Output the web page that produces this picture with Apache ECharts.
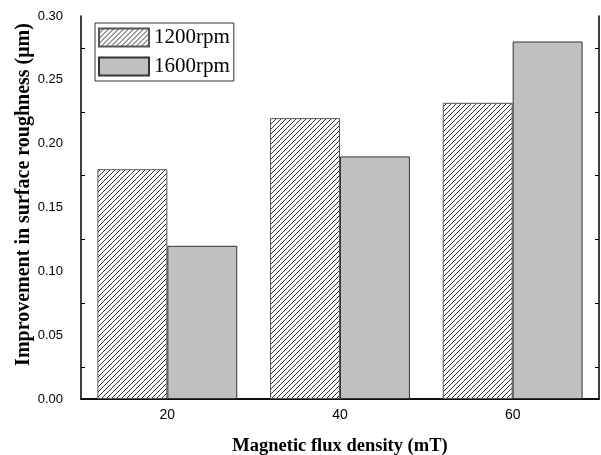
<!DOCTYPE html>
<html>
<head>
<meta charset="utf-8">
<script src="https://cdn.jsdelivr.net/npm/echarts@6/dist/echarts.min.js"></script>
<style>
  html, body { margin: 0; padding: 0; background: #fff; }
  #main { width: 601px; height: 455px; }
</style>
</head>
<body>
<div id="main"></div>
<script>
  var categories = ['20', '40', '60'];
  var rpm1200 = [0.18, 0.22, 0.232];
  var rpm1600 = [0.12, 0.19, 0.28];

  // hatch pattern for the 1200rpm bars
  function makeHatch() {
    var p = 5;
    var c = document.createElement('canvas');
    c.width = p;
    c.height = p;
    var ctx = c.getContext('2d');
    ctx.fillStyle = '#fff';
    ctx.fillRect(0, 0, p, p);
    ctx.strokeStyle = '#333';
    ctx.lineWidth = 1;
    ctx.beginPath();
    ctx.moveTo(-1, p + 1); ctx.lineTo(p + 1, -1);
    ctx.moveTo(-1, 1); ctx.lineTo(1, -1);
    ctx.moveTo(p - 1, p + 1); ctx.lineTo(p + 1, p - 1);
    ctx.stroke();
    return c;
  }
  var hatch = {image: makeHatch(), repeat: 'repeat'};

  var chart = echarts.init(document.getElementById('main'));
  var option = {
    animation: false,
    grid: {left: 81, right: 2, top: 16, bottom: 56, outerBoundsMode: 'none', containLabel: false},
    legend: {
      orient: 'vertical',
      left: 95,
      top: 23,
      padding: [4, 4, 4, 3],
      icon: 'rect',
      itemWidth: 50,
      itemHeight: 18,
      itemGap: 8,
      borderColor: '#333',
      borderWidth: 1,
      backgroundColor: '#fff',
      textStyle: {fontFamily: 'Liberation Serif', fontSize: 21, color: '#000'},
      data: ['1200rpm', '1600rpm']
    },
    xAxis: [
      {
        type: 'category',
        data: categories,
        position: 'bottom',
        name: 'Magnetic flux density (mT)',
        nameLocation: 'middle',
        nameGap: 38,
        nameTextStyle: {fontFamily: 'Liberation Serif', fontWeight: 'bold', fontSize: 18.5, color: '#000'},
        axisLine: {lineStyle: {color: '#000', width: 1.5}},
        axisTick: {inside: true, length: 4, lineStyle: {color: '#000'}},
        axisLabel: {fontFamily: 'Liberation Sans', fontSize: 14, color: '#000', margin: 9}
      },
      {
        type: 'category',
        data: categories,
        position: 'top',
        axisLine: {lineStyle: {color: '#000', width: 1.5}},
        axisTick: {inside: true, alignWithLabel: true, length: 6, lineStyle: {color: '#000'}},
        axisLabel: {show: false}
      },
      {
        type: 'category',
        data: categories,
        position: 'top',
        axisLine: {show: false},
        axisTick: {inside: true, length: 4, lineStyle: {color: '#000'}},
        axisLabel: {show: false}
      }
    ],
    yAxis: [
      {
        type: 'value',
        min: 0,
        max: 0.3,
        interval: 0.05,
        position: 'left',
        name: 'Improvement in surface roughness (\u03bcm)',
        nameLocation: 'middle',
        nameGap: 47,
        nameMoveOverlap: false,
        nameTextStyle: {fontFamily: 'Liberation Serif', fontWeight: 'bold', fontSize: 20, color: '#000', padding: [0, 0, 0, 26]},
        axisLine: {show: true, lineStyle: {color: '#000', width: 1.5}},
        axisTick: {inside: true, length: 6, lineStyle: {color: '#000'}},
        minorTick: {show: true, splitNumber: 2, length: 4, lineStyle: {color: '#000'}},
        splitLine: {show: false},
        axisLabel: {
          fontFamily: 'Liberation Sans', fontSize: 13, color: '#000', margin: 18,
          formatter: function (v) { return v.toFixed(2); }
        }
      },
      {
        type: 'value',
        min: 0,
        max: 0.3,
        interval: 0.05,
        position: 'right',
        axisLine: {show: true, lineStyle: {color: '#000', width: 1.5}},
        axisTick: {inside: true, length: 6, lineStyle: {color: '#000'}},
        minorTick: {show: true, splitNumber: 2, length: 4, lineStyle: {color: '#000'}},
        splitLine: {show: false},
        axisLabel: {show: false}
      }
    ],
    series: [
      {
        name: '1200rpm',
        type: 'bar',
        data: rpm1200,
        barGap: '0%',
        barCategoryGap: '19%',
        itemStyle: {color: hatch, borderColor: '#555', borderWidth: 1}
      },
      {
        name: '1600rpm',
        type: 'bar',
        data: rpm1600,
        barGap: '0%',
        barCategoryGap: '19%',
        itemStyle: {color: '#c0c0c0', borderColor: '#333', borderWidth: 1}
      }
    ]
  };
  chart.setOption(option);
</script>
</body>
</html>
